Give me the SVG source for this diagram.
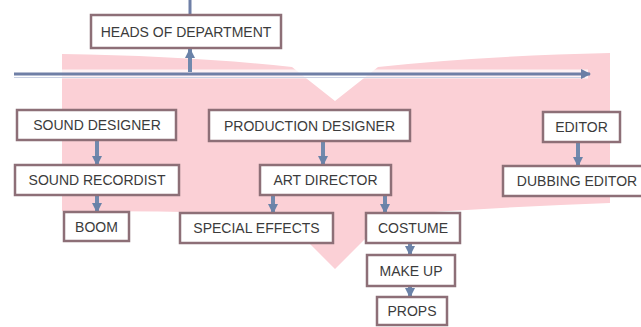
<svg xmlns="http://www.w3.org/2000/svg" width="641" height="327" viewBox="0 0 641 327">
<style>
.box{fill:#ffffff;stroke:#8d6f77;stroke-width:2.5}
.lbl{font-family:"Liberation Sans",Arial,sans-serif;font-size:14px;fill:#3b3b3b;text-anchor:middle}
.arr{stroke:#7189ad;stroke-width:4;fill:none;marker-end:url(#ah)}
</style>
<defs>
<marker id="ah" viewBox="0 0 10 10" refX="9" refY="5" markerWidth="2.6" markerHeight="2.6" orient="auto">
<path d="M0,0 L10,5 L0,10 Z" fill="#6a82a8"/>
</marker>
<marker id="ahBig" viewBox="0 0 10 10" refX="9" refY="5" markerWidth="3.5" markerHeight="3.5" orient="auto">
<path d="M0,0 L10,5 L0,10 Z" fill="#6a7fa6"/>
</marker>
</defs>
<rect width="641" height="327" fill="#ffffff"/>
<path d="M62,54 Q190,56 292,67 L335,101 L378,67 Q480,56 610,53 L610,203 Q500,207 389,215 L335,269 L280,214 Q170,211 62,211 Z" fill="#fbd0d6"/>
<g id="connectors">
<line x1="14" y1="74" x2="588" y2="74" stroke="#ffffff" stroke-width="9" stroke-opacity="0.75"/>
<line x1="14" y1="77.5" x2="585" y2="77.5" stroke="#c8d0e2" stroke-width="1"/>
<line x1="14" y1="74" x2="590" y2="74" stroke="#6f7fa6" stroke-width="3" marker-end="url(#ahBig)"/>
<line x1="190" y1="0" x2="190" y2="15" stroke="#6f7fa6" stroke-width="3"/>
<line class="arr" x1="190" y1="72" x2="190" y2="49"/>
<line class="arr" x1="97" y1="140" x2="97" y2="165"/>
<line class="arr" x1="97" y1="195" x2="97" y2="212"/>
<line class="arr" x1="323" y1="141" x2="323" y2="165"/>
<line class="arr" x1="273" y1="195" x2="273" y2="213"/>
<line class="arr" x1="385" y1="195" x2="385" y2="213"/>
<line class="arr" x1="410" y1="243" x2="410" y2="255"/>
<line class="arr" x1="410" y1="286" x2="410" y2="297"/>
<line class="arr" x1="578" y1="142" x2="578" y2="166"/>
</g>
<g id="heads"><rect class="box" x="91" y="15" width="190" height="33"/><text class="lbl" x="186" y="36.5">HEADS OF DEPARTMENT</text></g>
<g id="sound_designer"><rect class="box" x="17" y="110" width="159" height="30"/><text class="lbl" x="97" y="130">SOUND DESIGNER</text></g>
<g id="sound_recordist"><rect class="box" x="15" y="165" width="164" height="30"/><text class="lbl" x="97" y="185">SOUND RECORDIST</text></g>
<g id="boom"><rect class="box" x="64" y="212" width="65" height="29"/><text class="lbl" x="96.5" y="231.5">BOOM</text></g>
<g id="production_designer"><rect class="box" x="209" y="110" width="201" height="31"/><text class="lbl" x="309.5" y="130.5">PRODUCTION DESIGNER</text></g>
<g id="art_director"><rect class="box" x="260" y="165" width="131" height="30"/><text class="lbl" x="325.5" y="185">ART DIRECTOR</text></g>
<g id="special_effects"><rect class="box" x="180" y="213" width="153" height="30"/><text class="lbl" x="256.5" y="233">SPECIAL EFFECTS</text></g>
<g id="costume"><rect class="box" x="366" y="213" width="94" height="30"/><text class="lbl" x="413" y="233">COSTUME</text></g>
<g id="make_up"><rect class="box" x="367" y="255" width="88" height="31"/><text class="lbl" x="411" y="275.5">MAKE UP</text></g>
<g id="props"><rect class="box" x="377" y="297" width="70" height="28"/><text class="lbl" x="412" y="316">PROPS</text></g>
<g id="editor"><rect class="box" x="543" y="112" width="77" height="30"/><text class="lbl" x="581.5" y="132">EDITOR</text></g>
<g id="dubbing_editor"><rect class="box" x="503" y="166" width="142" height="30"/><text class="lbl" x="577" y="186">DUBBING EDITOR</text></g>
</svg>
